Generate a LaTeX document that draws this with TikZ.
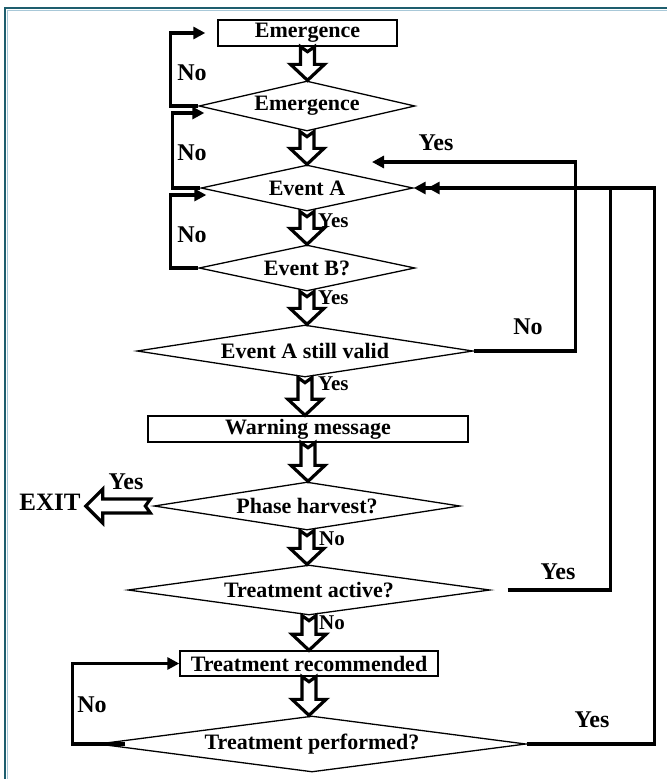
\documentclass[tikz,border=0pt]{standalone}
\usepackage{fontspec}
\setmainfont{Liberation Serif}
\usetikzlibrary{shapes.geometric,arrows.meta,calc}
\definecolor{frameteal}{HTML}{1E5E6E}
\definecolor{framelight}{HTML}{A8C8D8}
\newcommand\nodefont{\fontsize{22}{24}\selectfont\bfseries}
\newcommand\labfont{\fontsize{24}{26}\selectfont\bfseries}
\newcommand\slabfont{\fontsize{21}{23}\selectfont\bfseries}
\newcommand\exitfont{\fontsize{25}{27}\selectfont\bfseries}
\tikzset{
  box/.style={draw, line width=1.4pt, inner sep=0pt, font=\nodefont},
  dia/.style={diamond, draw, line width=1.3pt, inner sep=0pt, font=\nodefont},
  conn/.style={line width=3.6pt, -{Triangle[length=12pt,width=12pt]}},
  harrow/.style={draw=black, fill=white, line width=3.2pt, line join=miter},
  lab/.style={font=\labfont, inner sep=0pt},
  slab/.style={font=\slabfont, inner sep=0pt, anchor=west},
}
\newcommand\hdown[2]{\path[harrow] let \p1=(#1),\p2=(#2) in
  (\x1-7pt,\y1) -- (\x1,\y1-5pt) -- (\x1+7pt,\y1) -- (\x1+7pt,\y2+16pt)
  -- (\x1+17pt,\y2+16pt) -- (\x1,\y2) -- (\x1-17pt,\y2+16pt)
  -- (\x1-7pt,\y2+16pt) -- cycle;}
\newcommand\hleft[2]{\path[harrow] let \p1=(#1),\p2=(#2) in
  (\x1,\y1+7pt) -- (\x1-5pt,\y1) -- (\x1,\y1-7pt) -- (\x2+17pt,\y1-7pt)
  -- (\x2+17pt,\y1-17pt) -- (\x2,\y1) -- (\x2+17pt,\y1+17pt)
  -- (\x2+17pt,\y1+7pt) -- cycle;}
\begin{document}
\begin{tikzpicture}[x=1pt,y=-1pt]
\useasboundingbox (0,0) rectangle (667,779);
% frame
\draw[framelight, line width=1pt] (7,10.5) -- (667,10.5);
\draw[framelight, line width=1pt] (7.5,10) -- (7.5,779);
\draw[frameteal, line width=2pt] (5,8) -- (667,8);
\draw[frameteal, line width=2pt] (5,7) -- (5,779);

% nodes
\node[box, minimum width=179pt, minimum height=26pt] (b1) at (307.5,33) {Emergence};
\node[dia, minimum width=216pt, minimum height=50pt, shape aspect=4.32] (d1) at (307,106) {Emergence};
\node[dia, minimum width=212pt, minimum height=46pt, shape aspect=4.6] (d2) at (307,188) {Event A};
\node[dia, minimum width=216pt, minimum height=46pt, shape aspect=4.7] (d3) at (307,268) {Event B?};
\node[dia, minimum width=336pt, minimum height=52pt, shape aspect=6.46] (d4) at (305,351) {Event A still valid};
\node[box, minimum width=320pt, minimum height=26pt] (b2) at (308,429) {Warning message};
\node[dia, minimum width=306pt, minimum height=48pt, shape aspect=6.37] (d5) at (307,506) {Phase harvest?};
\node[dia, minimum width=362pt, minimum height=50pt, shape aspect=7.24] (d6) at (309,590) {Treatment active?};
\node[box, minimum width=258pt, minimum height=25pt] (b3) at (309,663.5) {Treatment recommended};
\node[dia, minimum width=428pt, minimum height=56pt, shape aspect=7.64] (d7) at (312,744) {Treatment performed?};
\node[font=\exitfont, inner sep=0pt] (exit) at (50,502) {EXIT};

% hollow arrows
\hdown{b1.south}{d1.north}
\hdown{d1.south}{d2.north}
\hdown{d2.south}{d3.north}
\hdown{d3.south}{d4.north}
\hdown{d4.south}{b2.north}
\hdown{b2.south}{d5.north}
\hdown{d5.south}{d6.north}
\hdown{d6.south}{b3.north}
\hdown{b3.south}{d7.north}
\hleft{$(d5.west)+(-3,0)$}{$(exit.east)+(5,0)$}

% left loops
\draw[conn, shorten >=12pt] (d1.west) -- ++(-28,0) |- (b1.west);
\coordinate (in1) at ($(d1.west)+(6,7)$);
\coordinate (in2) at ($(d2.west)+(6,7)$);
\draw[conn] (d2.west) -- ++(-28,0) |- (in1);
\draw[conn] (d3.west) -- ++(-28,0) |- (in2);
\draw[conn] ($(d7.west)+(28,0)$) -- ++(-53,0) |- (b3.west);

% right loops
\coordinate (noA) at (372,162);
\draw[conn] (d4.east) -- ++(102,0) |- (noA);
\draw[conn] ($(d6.east)+(17,0)$) -- ++(103,0) |- ($(d2.east)+(14,0)$);
\draw[conn] (d7.east) -- ++(128,0) |- (d2.east);

% labels
\node[lab] at (192,73) {No};
\node[lab] at (192,153) {No};
\node[lab] at (192,235) {No};
\node[lab] at (92,705) {No};
\node[lab] at (436,143) {Yes};
\node[lab] at (528,327) {No};
\node[lab] at (558,572) {Yes};
\node[lab] at (592,720) {Yes};
\node[lab] at (126,482) {Yes};
\node[slab] at (318,221) {Yes};
\node[slab] at (318,298) {Yes};
\node[slab] at (318,384) {Yes};
\node[slab] at (319,539) {No};
\node[slab] at (319,623) {No};
\end{tikzpicture}
\end{document}
